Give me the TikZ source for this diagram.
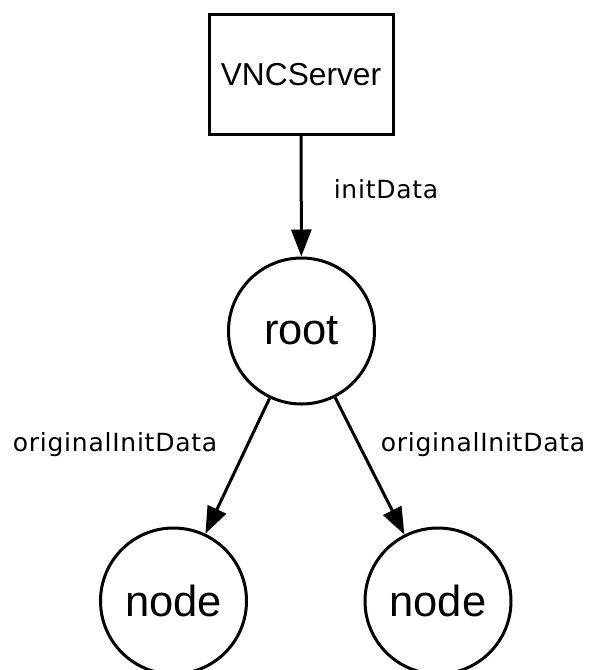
\documentclass[tikz,border=0pt]{standalone}
\usepackage{fontspec}
\setmainfont{Liberation Sans}
\newfontfamily\labelfont[LetterSpace=3]{DejaVu Sans}
\usetikzlibrary{arrows.meta}

\begin{document}
\begin{tikzpicture}[x=1pt,y=-1pt,line width=3pt,
  >={Triangle[length=27pt,width=20pt]},
  box/.style={draw,rectangle,minimum width=184pt,minimum height=120pt,font=\fontsize{31.7}{36}\selectfont},
  vertex/.style={draw,circle,minimum size=146pt,inner sep=0pt,font=\fontsize{43.5}{50}\selectfont},
  lab/.style={anchor=base,font=\labelfont\fontsize{25}{30}\selectfont}]
\useasboundingbox (0,0) rectangle (590,670);

\node[box] (server) at (301,74.5) {VNCServer};
\node[vertex] (root) at (301.5,331) {root};
\node[vertex] (left) at (173.5,601) {node};
\node[vertex] (right) at (438,601) {node};

\draw[->] (server) -- (root);
\draw[->] (root) -- (left);
\draw[->] (root) -- (right);

\node[lab] (init) at (386,198) {initData};
\node[lab] (origleft) at (115,451) {originalInitData};
\node[lab] (origright) at (483,451) {originalInitData};
\end{tikzpicture}
\end{document}
